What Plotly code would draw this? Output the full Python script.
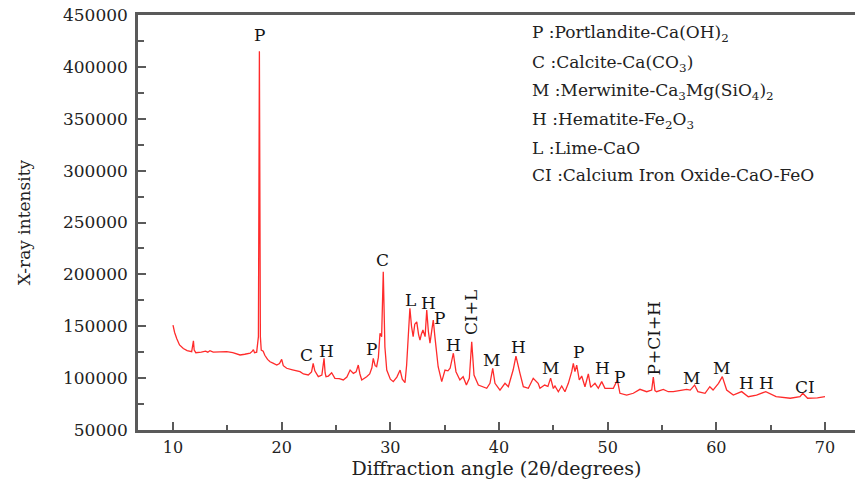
import plotly.graph_objects as go

two_theta = [
    10.00, 10.15, 10.35, 10.60, 10.95, 11.30, 11.72, 11.82, 11.88, 11.95, 12.10, 12.60, 13.00, 13.20,
    13.40, 13.70, 14.30, 14.94, 15.50, 16.17, 16.60, 17.10, 17.30, 17.40, 17.50, 17.70, 17.86, 17.95,
    18.04, 18.12, 18.30, 18.45, 18.70, 18.93, 19.20, 19.55, 19.80, 20.00, 20.15, 20.46, 21.00, 21.69,
    22.00, 22.45, 22.75, 22.90, 23.05, 23.37, 23.70, 23.90, 24.00, 24.08, 24.30, 24.60, 24.90, 25.30,
    25.67, 26.00, 26.30, 26.60, 26.85, 27.05, 27.20, 27.37, 27.82, 28.10, 28.30, 28.43, 28.60, 28.74,
    28.90, 29.05, 29.20, 29.35, 29.50, 29.67, 30.00, 30.27, 30.60, 30.90, 31.10, 31.35, 31.50, 31.65,
    31.80, 31.95, 32.10, 32.25, 32.43, 32.60, 32.73, 32.85, 33.00, 33.20, 33.35, 33.50, 33.65, 33.80,
    33.95, 34.10, 34.40, 34.73, 35.03, 35.30, 35.50, 35.80, 36.04, 36.40, 36.70, 37.00, 37.27, 37.49,
    37.70, 38.10, 38.50, 38.87, 39.17, 39.42, 39.63, 40.09, 40.55, 40.86, 41.30, 41.56, 41.93, 42.24,
    42.70, 43.15, 43.60, 43.77, 44.20, 44.50, 44.75, 45.00, 45.15, 45.46, 45.77, 46.07, 46.38, 46.69,
    46.84, 46.99, 47.15, 47.39, 47.61, 47.91, 48.22, 48.44, 48.83, 49.14, 49.45, 49.75, 50.21, 50.52,
    50.89, 51.13, 51.75, 52.36, 52.97, 53.59, 54.05, 54.20, 54.35, 54.50, 55.12, 55.58, 56.04, 56.65,
    57.27, 57.60, 58.00, 58.30, 58.96, 59.40, 59.70, 60.20, 60.55, 60.95, 61.56, 62.33, 62.94, 63.70,
    64.55, 65.50, 66.80, 67.70, 67.95, 68.40, 69.30, 70.00,
]
intensity = [
    151000, 144000, 138000, 132000, 128500, 126500, 125500, 131000, 136000, 127000, 124500, 125000, 126000, 125000,
    126500, 125000, 125500, 125500, 124500, 122300, 123000, 124000, 126000, 127500, 124500, 125000, 140000, 415000,
    140000, 127000, 126000, 122000, 118000, 115800, 114500, 112600, 114000, 118100, 112000, 109500, 108000, 106200,
    104000, 103000, 106000, 114300, 107000, 101400, 103000, 119000, 105000, 101400, 102000, 105200, 99800, 99500,
    98200, 101000, 107800, 104600, 106000, 112600, 104000, 98200, 101400, 104000, 110000, 119000, 112000, 111000,
    120000, 143200, 140000, 202600, 130000, 107800, 99000, 96600, 101000, 107800, 99000, 95600, 112600, 135000,
    167300, 150000, 140000, 152000, 154300, 142000, 136700, 142000, 146400, 140000, 165600, 145000, 133600, 145000,
    156000, 140000, 111000, 96600, 107800, 107000, 109500, 124000, 106200, 98200, 101400, 93300, 99800, 135100,
    103000, 93300, 91500, 90200, 95000, 109500, 95000, 88500, 95000, 91700, 107800, 121300, 104600, 91700,
    90200, 99800, 95000, 90200, 93300, 92000, 100000, 90000, 92500, 86900, 92400, 86900, 95000, 106200,
    114300, 106200, 112600, 98200, 102000, 91700, 104000, 91100, 95000, 90200, 96600, 90200, 90200, 90200,
    98200, 85400, 83700, 85400, 89200, 86900, 88500, 101000, 88000, 86900, 89200, 86900, 86900, 87900,
    89200, 88500, 93300, 87000, 85400, 91700, 88500, 95000, 101400, 88500, 83700, 87000, 82100, 83700,
    87000, 82100, 80600, 82100, 85400, 80600, 81000, 82100,
]

# peak identification labels (text, 2theta, intensity, rotated?)
peak_text = ["P", "C", "H", "P", "C", "L", "H", "P", "H", "CI+L", "M", "H", "M", "P", "H", "P",
             "P+CI+H", "M", "M", "H", "H", "CI"]
peak_x = [18.00, 22.30, 24.08, 28.28, 29.30, 31.87, 33.49, 34.50, 35.79, 37.42, 39.33, 41.84, 44.78,
          47.27, 49.57, 51.13, 54.22, 57.73, 60.49, 62.79, 64.63, 68.16]
peak_y = [430700, 122300, 126400, 127800, 213900, 175300, 172700, 157700, 131900, 163700, 117500,
          130000, 109800, 125500, 109800, 101400, 137700, 99800, 109500, 95000, 95600, 91100]
peak_rot = [False, False, False, False, False, False, False, False, False, True, False, False, False,
            False, False, False, True, False, False, False, False, False]

phase_key = [
    "P :Portlandite-Ca(OH)<sub>2</sub>",
    "C :Calcite-Ca(CO<sub>3</sub>)",
    "M :Merwinite-Ca<sub>3</sub>Mg(SiO<sub>4</sub>)<sub>2</sub>",
    "H :Hematite-Fe<sub>2</sub>O<sub>3</sub>",
    "L :Lime-CaO",
    "CI :Calcium Iron Oxide-CaO-FeO",
]

x_ticks = [10, 20, 30, 40, 50, 60, 70]
y_ticks = [50000, 100000, 150000, 200000, 250000, 300000, 350000, 400000, 450000]

FONT = "DejaVu Serif"
TXT = "#222222"
AX = "#5a5a5a"

fig = go.Figure()
fig.add_trace(go.Scatter(x=two_theta, y=intensity, mode="lines",
                         line=dict(color="#ff2b2b", width=1.3), showlegend=False,
                         hoverinfo="skip"))

W, H = 855, 490
L, R, T, B = 138, 0, 15, 60
pw, ph = W - L - R, H - T - B

for t, x, y, rot in zip(peak_text, peak_x, peak_y, peak_rot):
    fig.add_annotation(x=x, y=y, text=t, showarrow=False, textangle=-90 if rot else 0,
                       font=dict(family=FONT, size=17, color="#151515"), xanchor="center", yanchor="middle")

key_rows_px = [33, 63, 92, 120, 148, 175]
for i, (t, py) in enumerate(zip(phase_key, key_rows_px)):
    fig.add_annotation(xref="paper", yref="paper", x=(530 - L) / pw, y=1 - (py - T) / ph,
                       text=t, showarrow=False, xanchor="left", yanchor="middle",
                       font=dict(family=FONT, size=17, color=TXT))

fig.update_layout(
    width=W, height=H, margin=dict(l=L, r=R, t=T, b=B),
    paper_bgcolor="white", plot_bgcolor="white",
    font=dict(family=FONT, color=TXT),
)
fig.update_xaxes(
    range=[10 - 35 / 10.867, 70 + 30 / 10.867], tickvals=x_ticks, ticktext=[str(v) for v in x_ticks],
    ticks="inside", ticklen=8, tickwidth=1.5, tickcolor=AX,
    minor=dict(ticks="inside", ticklen=5, tickwidth=1.5, tickcolor=AX, dtick=5, tick0=5),
    showline=True, linecolor=AX, linewidth=2.5, mirror=True, showgrid=False, zeroline=False,
    tickfont=dict(family=FONT, size=16, color=TXT), ticklabelstandoff=1,
    title=dict(text="Diffraction angle (2θ/degrees)", font=dict(family=FONT, size=19, color=TXT), standoff=3),
)
fig.update_yaxes(
    range=[50000, 450000], tickvals=y_ticks, ticktext=[str(v) for v in y_ticks],
    ticks="inside", ticklen=8, tickwidth=1.5, tickcolor=AX,
    minor=dict(ticks="inside", ticklen=6, tickwidth=1.5, tickcolor=AX, dtick=25000, tick0=25000),
    showline=True, linecolor=AX, linewidth=2.5, mirror=False, showgrid=False, zeroline=False,
    tickfont=dict(family=FONT, size=17, color=TXT), ticklabelstandoff=4,
    title=dict(text="X-ray intensity", font=dict(family=FONT, size=17, color=TXT), standoff=28),
)

fig.write_html("out.html")
